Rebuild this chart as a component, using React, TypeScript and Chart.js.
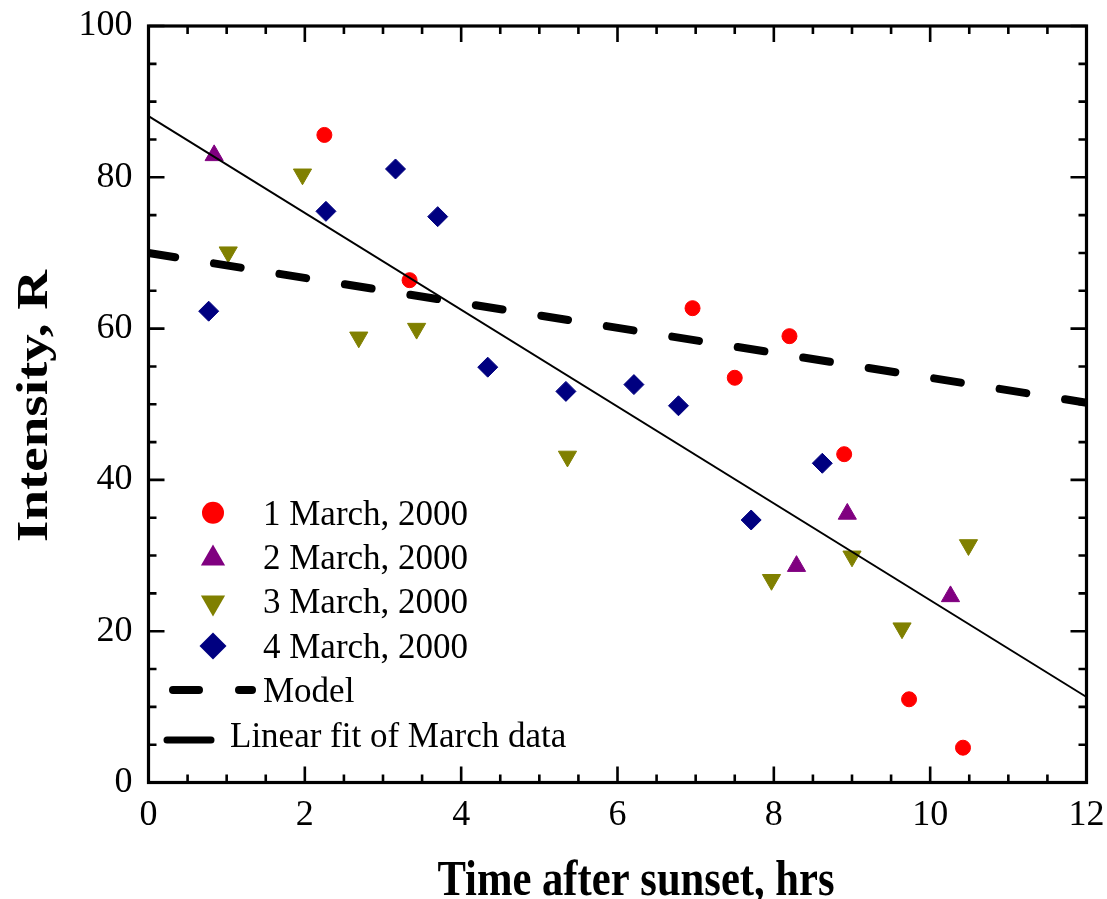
import React, { useEffect, useRef } from 'react';
import { Chart, registerables } from 'chart.js';

Chart.register(...registerables);

// ---------- data ----------
const day1X = [2.25, 3.34, 6.96, 7.5, 8.2, 8.9, 9.73, 10.42];
const day1Y = [85.6, 66.4, 62.7, 53.5, 59.0, 43.4, 11.0, 4.6];

const day2X = [0.84, 8.29, 8.94, 10.26];
const day2Y = [82.9, 28.6, 35.5, 24.6];

const day3X = [1.02, 1.97, 2.69, 3.43, 5.36, 7.97, 9.0, 9.64, 10.49];
const day3Y = [70.1, 80.4, 58.85, 60.0, 43.1, 26.8, 29.9, 20.4, 31.4];

const day4X = [0.77, 2.27, 3.16, 3.7, 4.34, 5.34, 6.21, 6.78, 7.71, 8.62];
const day4Y = [62.3, 75.5, 81.1, 74.8, 54.9, 51.7, 52.6, 49.8, 34.7, 42.2];

const modelX = [0, 12];
const modelY = [70.0, 50.2];

const fitX = [0, 12];
const fitY = [88.1, 11.3];

const seriesLabels = ['1 March, 2000', '2 March, 2000', '3 March, 2000', '4 March, 2000'];
const modelLabel = 'Model';
const fitLabel = 'Linear fit of March data';
const xTitle = 'Time after sunset, hrs';
const yTitle = 'Intensity, R';

const xRange = [0, 12];
const yRange = [0, 100];
const xMajorStep = 2;
const xMinorStep = 0.5;
const yMajorStep = 20;
const yMinorStep = 5;

// ---------- style ----------
const COLORS = ['#FF0000', '#800080', '#808000', '#000080'];
const SERIF = '"Liberation Serif", "Times New Roman", serif';

const toPts = (xs: number[], ys: number[]) => xs.map((x, i) => ({ x, y: ys[i] }));

const framePlugin = {
  id: 'frameTicks',
  afterDatasetsDraw(chart: any) {
    const { ctx, chartArea: a, scales } = chart;
    const xs = scales.x;
    const ys = scales.y;
    ctx.save();
    ctx.strokeStyle = '#000';
    ctx.lineWidth = 2.6;
    ctx.lineCap = 'butt';
    ctx.beginPath();
    const nx = Math.round((xRange[1] - xRange[0]) / xMinorStep);
    for (let i = 0; i <= nx; i++) {
      const v = xRange[0] + i * xMinorStep;
      const px = xs.getPixelForValue(v);
      const major = Math.abs(v / xMajorStep - Math.round(v / xMajorStep)) < 1e-6;
      const len = major ? 16 : 8;
      ctx.moveTo(px, a.bottom);
      ctx.lineTo(px, a.bottom - len);
      ctx.moveTo(px, a.top);
      ctx.lineTo(px, a.top + len);
    }
    const ny = Math.round((yRange[1] - yRange[0]) / yMinorStep);
    for (let i = 0; i <= ny; i++) {
      const v = yRange[0] + i * yMinorStep;
      const py = ys.getPixelForValue(v);
      const major = Math.abs(v / yMajorStep - Math.round(v / yMajorStep)) < 1e-6;
      const len = major ? 16 : 8;
      ctx.moveTo(a.left, py);
      ctx.lineTo(a.left + len, py);
      ctx.moveTo(a.right, py);
      ctx.lineTo(a.right - len, py);
    }
    ctx.stroke();
    ctx.lineWidth = 3.2;
    ctx.lineJoin = 'miter';
    ctx.strokeRect(a.left, a.top, a.right - a.left, a.bottom - a.top);
    ctx.restore();
  },
};

const drawMarker = (ctx: CanvasRenderingContext2D, kind: number, x: number, y: number) => {
  ctx.fillStyle = COLORS[kind];
  ctx.beginPath();
  const s = Math.sin((2 * Math.PI) / 3);
  const c = Math.cos((2 * Math.PI) / 3);
  if (kind === 0) {
    ctx.arc(x, y, 11, 0, Math.PI * 2);
  } else if (kind === 1) {
    const r = 14;
    ctx.moveTo(x, y - r);
    ctx.lineTo(x + r * s, y - r * c);
    ctx.lineTo(x - r * s, y - r * c);
  } else if (kind === 2) {
    const r = 14;
    ctx.moveTo(x, y + r);
    ctx.lineTo(x + r * s, y + r * c);
    ctx.lineTo(x - r * s, y + r * c);
  } else {
    const r = 13.5;
    ctx.moveTo(x - r, y);
    ctx.lineTo(x, y - r);
    ctx.lineTo(x + r, y);
    ctx.lineTo(x, y + r);
  }
  ctx.closePath();
  ctx.fill();
};

const legendTitlesPlugin = {
  id: 'legendTitles',
  afterDraw(chart: any) {
    const { ctx } = chart;
    ctx.save();
    // legend
    const markerX = 213;
    const markerYs = [512.7, 558.5, 602.5, 646];
    const textBaselines = [525, 569, 613, 658];
    ctx.font = `35px ${SERIF}`;
    ctx.textAlign = 'left';
    ctx.textBaseline = 'alphabetic';
    for (let i = 0; i < 4; i++) {
      drawMarker(ctx, i, markerX, markerYs[i]);
      ctx.fillStyle = '#000';
      ctx.fillText(seriesLabels[i], 263, textBaselines[i]);
    }
    ctx.strokeStyle = '#000';
    ctx.lineCap = 'round';
    ctx.lineWidth = 8;
    ctx.beginPath();
    ctx.moveTo(173, 690);
    ctx.lineTo(199, 690);
    ctx.moveTo(239, 690);
    ctx.lineTo(252, 690);
    ctx.stroke();
    ctx.fillText(modelLabel, 263, 702);
    ctx.lineWidth = 7;
    ctx.beginPath();
    ctx.moveTo(167, 740);
    ctx.lineTo(211, 740);
    ctx.stroke();
    ctx.fillText(fitLabel, 230, 747);

    // axis titles
    ctx.fillStyle = '#000';
    ctx.font = `bold 50px ${SERIF}`;
    ctx.textAlign = 'center';
    ctx.textBaseline = 'alphabetic';
    ctx.save();
    ctx.translate(636, 895);
    ctx.scale(42.65 / 50, 1);
    ctx.fillText(xTitle, 0, 0);
    ctx.restore();

    ctx.save();
    ctx.font = `bold 55px ${SERIF}`;
    ctx.translate(46.5, 406);
    ctx.rotate(-Math.PI / 2);
    ctx.scale(1, 45 / 55);
    ctx.fillText(yTitle, 0, 0);
    ctx.restore();

    ctx.restore();
  },
};

export default function App() {
  const ref = useRef<HTMLCanvasElement | null>(null);

  useEffect(() => {
    if (!ref.current) return;
    const pointDs = (label: string, xs: number[], ys: number[], i: number, style: string, radius: number, rotation = 0) => ({
      label,
      data: toPts(xs, ys),
      backgroundColor: COLORS[i],
      borderColor: COLORS[i],
      borderWidth: 1,
      pointStyle: style,
      pointRadius: radius,
      pointRotation: rotation,
      pointHoverRadius: radius,
      showLine: false,
    });
    const chart = new Chart(ref.current, {
      type: 'scatter',
      data: {
        datasets: [
          {
            label: fitLabel,
            data: toPts(fitX, fitY),
            showLine: true,
            borderColor: '#000',
            borderWidth: 2,
            pointRadius: 0,
            pointHoverRadius: 0,
            fill: false,
          } as any,
          {
            label: modelLabel,
            data: toPts(modelX, modelY),
            showLine: true,
            borderColor: '#000',
            borderWidth: 8,
            borderDash: [27, 39.3],
            borderCapStyle: 'round',
            pointRadius: 0,
            pointHoverRadius: 0,
            fill: false,
          } as any,
          pointDs(seriesLabels[0], day1X, day1Y, 0, 'circle', 7.5),
          pointDs(seriesLabels[1], day2X, day2Y, 1, 'triangle', 10.5),
          pointDs(seriesLabels[2], day3X, day3Y, 2, 'triangle', 10.5, 180),
          pointDs(seriesLabels[3], day4X, day4Y, 3, 'rectRot', 10),
        ],
      },
      options: {
        responsive: false,
        animation: false,
        events: [],
        layout: { padding: { top: 26, right: 20.5, left: 0, bottom: 0 } },
        plugins: {
          legend: { display: false },
          tooltip: { enabled: false },
          title: { display: false },
        },
        scales: {
          x: {
            type: 'linear',
            min: xRange[0],
            max: xRange[1],
            grid: { display: false, drawTicks: false },
            border: { display: false },
            ticks: {
              stepSize: xMajorStep,
              padding: 15,
              color: '#000',
              font: { family: SERIF, size: 36, lineHeight: 1 },
              maxRotation: 0,
            },
            afterFit: (s: any) => {
              s.height = 116.5;
              s.paddingLeft = 0;
              s.paddingRight = 0;
              s.paddingTop = 0;
              s.paddingBottom = 0;
            },
          },
          y: {
            type: 'linear',
            min: yRange[0],
            max: yRange[1],
            grid: { display: false, drawTicks: false },
            border: { display: false },
            ticks: {
              stepSize: yMajorStep,
              padding: 16,
              color: '#000',
              font: { family: SERIF, size: 36, lineHeight: 1 },
            },
            afterFit: (s: any) => {
              s.width = 148.5;
              s.paddingLeft = 0;
              s.paddingRight = 0;
              s.paddingTop = 0;
              s.paddingBottom = 0;
            },
          },
        },
      },
      plugins: [framePlugin, legendTitlesPlugin],
    } as any);
    return () => chart.destroy();
  }, []);

  return (
    <div style={{ position: 'absolute', left: 0, top: 0, width: 1107, height: 899, background: '#fff' }}>
      <canvas ref={ref} width={1107} height={899} style={{ display: 'block' }} />
    </div>
  );
}
